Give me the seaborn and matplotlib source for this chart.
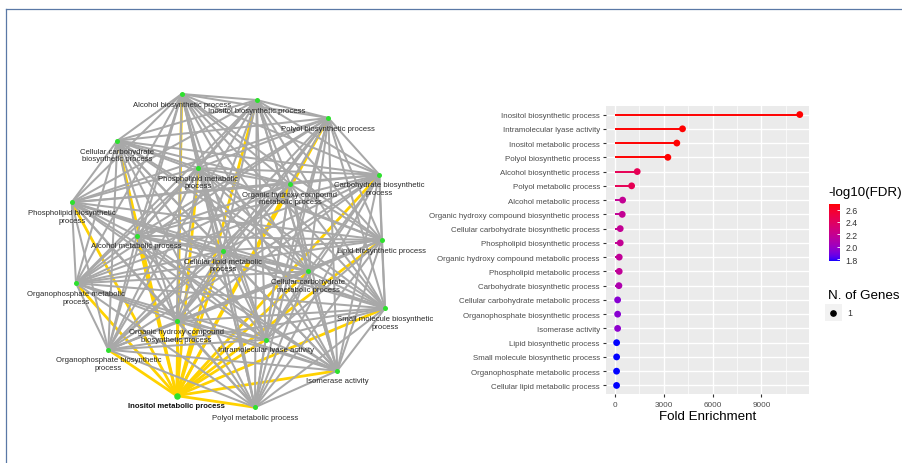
import itertools
import numpy as np
import pandas as pd
import matplotlib
matplotlib.use("Agg")
import matplotlib.pyplot as plt
import seaborn as sns
from matplotlib.collections import LineCollection
from matplotlib.colors import ListedColormap, Normalize
from matplotlib.lines import Line2D
from matplotlib.patches import Rectangle
import matplotlib.cm as cm

# ---------------- data: enrichment lollipop ----------------
terms = [
    "Inositol biosynthetic process",
    "Intramolecular lyase activity",
    "Inositol metabolic process",
    "Polyol biosynthetic process",
    "Alcohol biosynthetic process",
    "Polyol metabolic process",
    "Alcohol metabolic process",
    "Organic hydroxy compound biosynthetic process",
    "Cellular carbohydrate biosynthetic process",
    "Phospholipid biosynthetic process",
    "Organic hydroxy compound metabolic process",
    "Phospholipid metabolic process",
    "Carbohydrate biosynthetic process",
    "Cellular carbohydrate metabolic process",
    "Organophosphate biosynthetic process",
    "Isomerase activity",
    "Lipid biosynthetic process",
    "Small molecule biosynthetic process",
    "Organophosphate metabolic process",
    "Cellular lipid metabolic process",
]
fold_enrichment = [11350, 4150, 3800, 3250, 1368, 1025, 472, 448, 325, 325,
                   264, 262, 245, 165, 165, 165, 104, 104, 100, 100]
neg_log10_fdr = [2.69, 2.69, 2.69, 2.69, 2.44, 2.44, 2.19, 2.19, 2.19, 2.19,
                 2.17, 2.17, 2.08, 1.94, 1.94, 1.96, 1.77, 1.77, 1.77, 1.77]
n_genes = [1] * 20
x_ticks = [0, 3000, 6000, 9000]
cbar_ticks = [1.8, 2.0, 2.2, 2.4, 2.6]

# ---------------- data: network ----------------
net_nodes = [
    "Alcohol biosynthetic process",
    "Inositol biosynthetic process",
    "Polyol biosynthetic process",
    "Cellular carbohydrate\nbiosynthetic process",
    "Phospholipid metabolic\nprocess",
    "Organic hydroxy compound\nmetabolic process",
    "Carbohydrate biosynthetic\nprocess",
    "Phospholipid biosynthetic\nprocess",
    "Alcohol metabolic process",
    "Lipid biosynthetic process",
    "Cellular lipid metabolic\nprocess",
    "Cellular carbohydrate\nmetabolic process",
    "Organophosphate metabolic\nprocess",
    "Small molecule biosynthetic\nprocess",
    "Organic hydroxy compound\nbiosynthetic process",
    "Intramolecular lyase activity",
    "Organophosphate biosynthetic\nprocess",
    "Isomerase activity",
    "Inositol metabolic process",
    "Polyol metabolic process",
]
selected_node = "Inositol metabolic process"

# layout of the network (graph-tool layout, pixel-like units, y down)
layout_x = [161.7, 236.7, 308.3, 97.3, 178.3, 270.0, 359.3, 51.7, 116.7, 361.7,
            202.7, 288.3, 56.0, 365.0, 156.7, 245.7, 88.3, 317.3, 156.7, 235.0]
layout_y = [10.0, 16.0, 34.0, 56.7, 84.0, 100.0, 90.7, 118.3, 151.7, 156.0,
            166.7, 187.3, 199.3, 224.3, 237.3, 255.7, 265.7, 286.7, 311.7, 323.3]

# edges: every pair of terms shares the gene
edges = list(itertools.combinations(range(len(net_nodes)), 2))


# ---------------- ggplot-like blue->red Lab gradient ----------------
def _lin(c):
    c = np.asarray(c, float)
    return np.where(c <= 0.04045, c / 12.92, ((c + 0.055) / 1.055) ** 2.4)


def _delin(c):
    c = np.clip(c, 0, 1)
    return np.where(c <= 0.0031308, 12.92 * c, 1.055 * c ** (1 / 2.4) - 0.055)


M = np.array([[0.4124564, 0.3575761, 0.1804375],
              [0.2126729, 0.7151522, 0.0721750],
              [0.0193339, 0.1191920, 0.9503041]])
WP = np.array([0.95047, 1.0, 1.08883])
d = 6 / 29


def rgb2lab(rgb):
    xyz = M @ _lin(rgb) / WP
    f = np.where(xyz > d ** 3, np.cbrt(xyz), xyz / (3 * d * d) + 4 / 29)
    return np.array([116 * f[1] - 16, 500 * (f[0] - f[1]), 200 * (f[1] - f[2])])


def lab2rgb(lab):
    L, a, b = lab
    fy = (L + 16) / 116
    fx = fy + a / 500
    fz = fy - b / 200
    f = np.array([fx, fy, fz])
    xyz = np.where(f > d, f ** 3, 3 * d * d * (f - 4 / 29)) * WP
    return _delin(np.linalg.solve(M, xyz))


lab_lo = rgb2lab([0, 0, 1])
lab_hi = rgb2lab([1, 0, 0])
grad = [lab2rgb(lab_lo + t * (lab_hi - lab_lo)) for t in np.linspace(0, 1, 256)]
cmap = ListedColormap(grad)
norm = Normalize(1.77, 2.69)

# ---------------- figure ----------------
W, H = 903, 464
plt.rcParams["font.family"] = ["Liberation Sans", "DejaVu Sans"]
fig = plt.figure(figsize=(W / 100, H / 100), dpi=100)


def px_rect(x0, y0, x1, y1):
    return [x0 / W, 1 - y1 / H, (x1 - x0) / W, (y1 - y0) / H]


# ---- network ----
axn = fig.add_axes(px_rect(20, 85, 440, 425))
axn.axis("off")
sel = net_nodes.index(selected_node)
gray_segs, gold_segs = [], []
for i, j in edges:
    seg = [(layout_x[i], layout_y[i]), (layout_x[j], layout_y[j])]
    (gold_segs if sel in (i, j) else gray_segs).append(seg)
axn.add_collection(LineCollection(gold_segs, colors="#FFD200", linewidths=2.0, zorder=1))
axn.add_collection(LineCollection(gray_segs, colors="#A8A8A8", linewidths=1.45, zorder=2))
net_df = pd.DataFrame({"x": layout_x, "y": layout_y, "term": net_nodes})
net_df["sel"] = net_df["term"] == selected_node
sns.scatterplot(data=net_df[~net_df["sel"]], x="x", y="y", color="#2EE02E", s=13,
                linewidth=0, ax=axn, zorder=3, legend=False)
sns.scatterplot(data=net_df[net_df["sel"]], x="x", y="y", color="#2EE02E", s=22,
                linewidth=0, ax=axn, zorder=3, legend=False)
axn.set_xlim(0, 420)
axn.set_ylim(340, 0)
axn.set_xlabel("")
axn.set_ylabel("")
for xx, yy, name in zip(layout_x, layout_y, net_nodes):
    bold = name == selected_node
    axn.text(xx, yy + 6.8, name, ha="center", va="top", fontsize=5.6,
             linespacing=1.1, color="#111111" if bold else "#2a2a2a",
             fontweight="bold" if bold else "normal", zorder=4)

# ---- lollipop ----
ax = fig.add_axes(px_rect(605.7, 107, 809, 395))
df = pd.DataFrame({"term": terms, "fold": fold_enrichment,
                   "fdr": neg_log10_fdr, "genes": n_genes})
df["pos"] = np.arange(len(df))
ax.set_facecolor("#EBEBEB")
for s in ax.spines.values():
    s.set_visible(False)
ax.hlines(df["pos"], 0, df["fold"], colors=cmap(norm(df["fdr"])), lw=1.4, zorder=2)
sns.scatterplot(data=df, x="fold", y="pos", hue="fdr", palette=cmap, hue_norm=norm,
                s=24, linewidth=0, legend=False, ax=ax, zorder=3)
ax.set_xlim(-567, 11917)
ax.set_ylim(len(df) - 0.4, -0.6)
ax.set_xticks(x_ticks)
ax.set_xticks([1500, 4500, 7500, 10500], minor=True)
ax.set_yticks(df["pos"])
ax.set_yticklabels(df["term"])
ax.grid(which="major", color="white", lw=1.0)
ax.grid(which="minor", axis="x", color="white", lw=0.5)
ax.set_axisbelow(True)
ax.tick_params(axis="both", which="major", length=2.2, width=0.8, color="#333333",
               labelcolor="#4D4D4D", pad=2)
ax.tick_params(axis="y", labelsize=5.7)
ax.tick_params(axis="x", labelsize=5.9, pad=3)
ax.tick_params(which="minor", length=0)
ax.set_ylabel("")
ax.set_xlabel("Fold Enrichment", fontsize=9.6, labelpad=1.5, color="black")

# ---- legends ----
fig.text(828 / W, 1 - 193 / H, "-log10(FDR)", fontsize=9.6, va="center", ha="left")
cax = fig.add_axes(px_rect(829, 205, 840, 262))
cb = fig.colorbar(cm.ScalarMappable(norm=norm, cmap=cmap), cax=cax, ticks=cbar_ticks)
cb.outline.set_visible(False)
cax.tick_params(length=2.2, width=0.6, color="white", direction="in",
                labelsize=6.3, labelcolor="#333333", pad=4)
cax.set_yticklabels([f"{t:.1f}" for t in cbar_ticks])

fig.text(828 / W, 1 - 296 / H, "N. of Genes", fontsize=9.6, va="center", ha="left")
fig.add_artist(Rectangle((825 / W, 1 - 322 / H), 17 / W, 17 / H,
                         transform=fig.transFigure, color="#F2F2F2", lw=0))
fig.add_artist(Line2D([833.5 / W], [1 - 313.5 / H], marker="o", markersize=3.8,
                      color="black", lw=0, transform=fig.transFigure))
fig.text(847 / W, 1 - 313.5 / H, str(n_genes[0]), fontsize=6.3, va="center",
         ha="left", color="#333333")

# ---- frame lines ----
fig.add_artist(Line2D([6 / W, 1], [1 - 10 / H, 1 - 10 / H], color="#5A78A6", lw=0.9,
                      transform=fig.transFigure))
fig.add_artist(Line2D([6 / W, 6 / W], [1 - 10 / H, 0], color="#5A78A6", lw=0.9,
                      transform=fig.transFigure))

fig.savefig("out.png", dpi=100, facecolor="white")
